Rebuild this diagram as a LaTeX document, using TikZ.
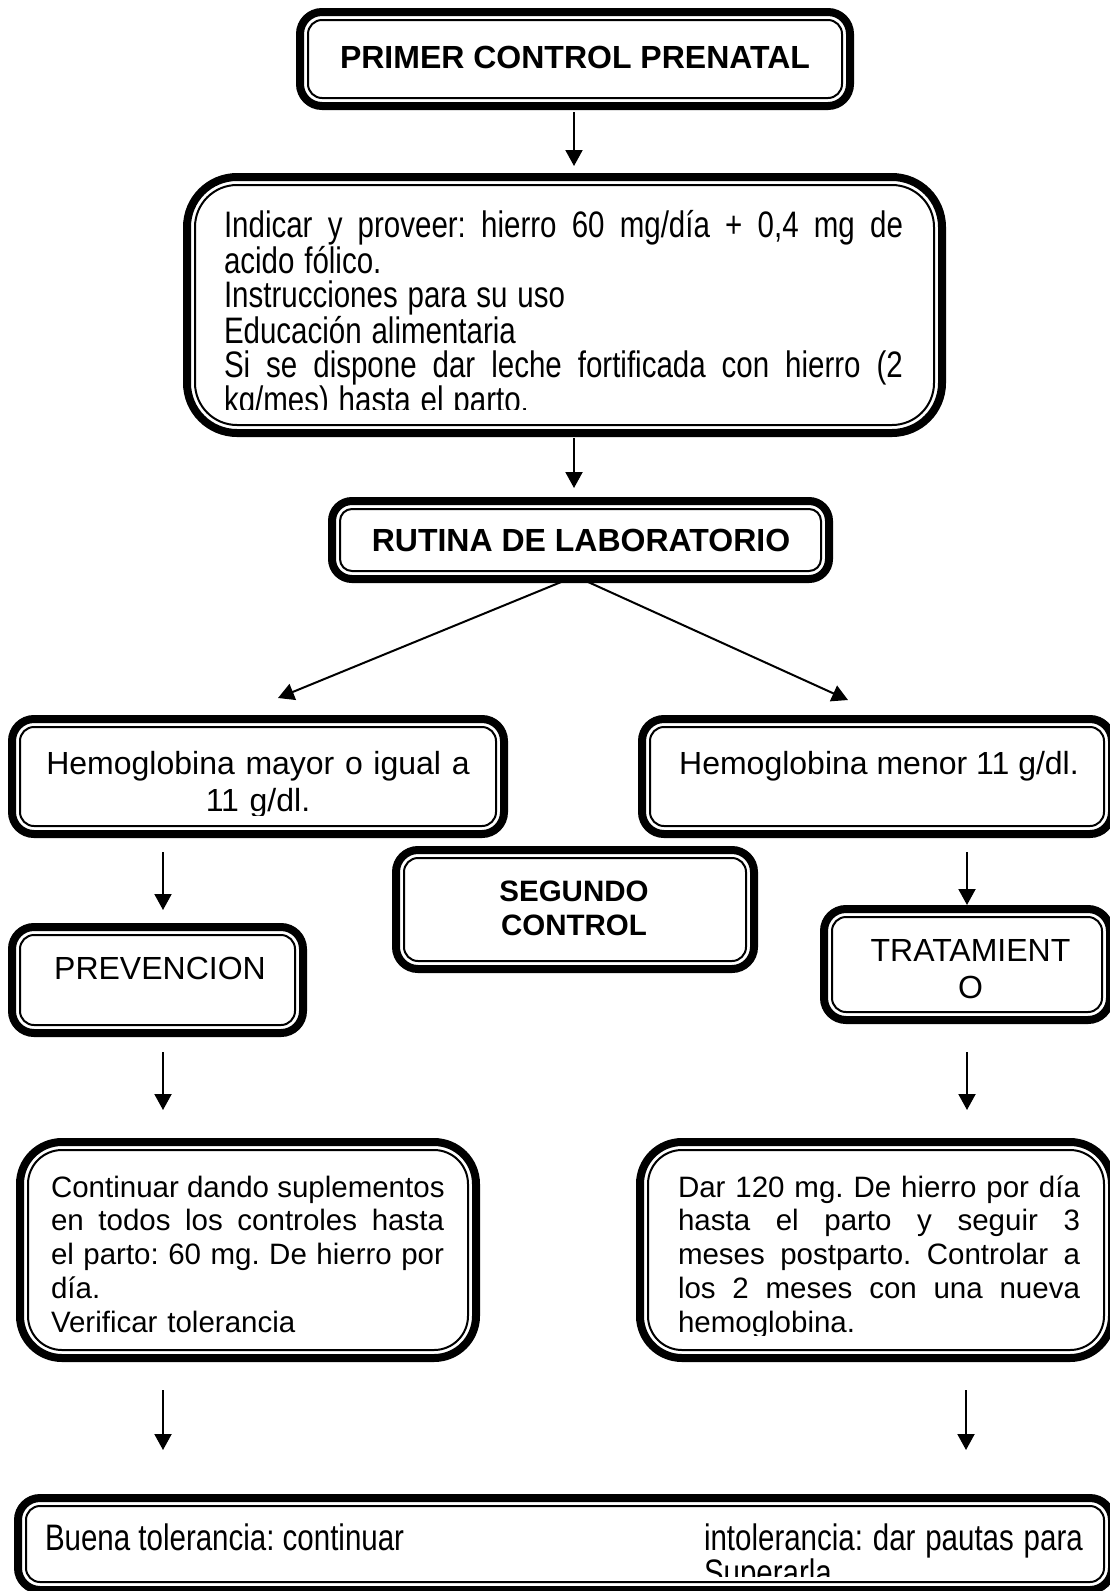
\documentclass[tikz,border=0pt]{standalone}
\usepackage{fontspec}
\setmainfont{Liberation Sans}
\usetikzlibrary{arrows.meta}
\frenchspacing
\newcommand\jline[2]{\leavevmode\hbox to #1{\spaceskip=\fontdimen2\font plus 1fill\relax #2}}
\tikzset{
  dbox/.style={draw, line width=8pt, rounded corners=#1, inner sep=0pt, outer sep=0pt},
  arr/.style={line width=2pt, -{Triangle[width=17pt,length=16pt]}},
  txt/.style={inner sep=0pt, outer sep=0pt},
  bigt/.style={txt, font=\frenchspacing\fontsize{32}{37}\selectfont},
  bigb/.style={txt, font=\frenchspacing\bfseries\fontsize{32}{37}\selectfont},
  medb/.style={txt, font=\frenchspacing\bfseries\fontsize{29.5}{34}\selectfont},
  smallt/.style={txt, font=\frenchspacing\fontsize{29.5}{33.9}\selectfont},
  tallt/.style={txt, yscale=1.25, font=\frenchspacing\fontsize{29.5}{27.2}\selectfont},
}
\newcommand\innerframe[2]{\draw[line width=2pt, rounded corners=#2] ([shift={(8,-8)}]#1.north west) rectangle ([shift={(-8,8)}]#1.south east);}
\begin{document}
\setlength{\lineskiplimit}{-100pt}%
\setlength{\lineskip}{0pt}%
\begin{tikzpicture}[x=1pt,y=1pt]
\useasboundingbox (0,0) rectangle (1110,-1591);
\fill[white] (0,0) rectangle (1110,-1591);
\clip (0,0) rectangle (1110,-1591);

% boxes
\node[dbox=22, minimum width=550, minimum height=94] (b1) at (575,-59) {};
\innerframe{b1}{14}
\node[dbox=50, minimum width=755, minimum height=256] (b2) at (564.5,-305) {};
\innerframe{b2}{42}
\node[dbox=20, minimum width=497, minimum height=78] (b3) at (580.5,-540) {};
\innerframe{b3}{12}
\node[dbox=22, minimum width=492, minimum height=115] (b4L) at (258,-776.5) {};
\innerframe{b4L}{14}
\node[dbox=22, minimum width=470, minimum height=115] (b4R) at (877,-776.5) {};
\innerframe{b4R}{14}
\node[dbox=22, minimum width=358, minimum height=119] (seg) at (575,-909.5) {};
\innerframe{seg}{14}
\node[dbox=22, minimum width=291, minimum height=106] (prev) at (157.5,-980) {};
\innerframe{prev}{14}
\node[dbox=22, minimum width=286, minimum height=111] (trat) at (967,-964.5) {};
\innerframe{trat}{14}
\node[dbox=42, minimum width=456, minimum height=216] (cont) at (248,-1250) {};
\innerframe{cont}{34}
\node[dbox=42, minimum width=472, minimum height=216] (dar) at (876,-1250) {};
\innerframe{dar}{34}
\node[dbox=22, minimum width=1094, minimum height=92] (bot) at (565,-1544) {};
\innerframe{bot}{14}

% texts
\node[bigb, anchor=base] (t1) at (575,-68) {PRIMER CONTROL PRENATAL};
\begin{scope}
\clip (183,-173) rectangle (946,-409);
\node[tallt, anchor=base west, text width=679, align=left] (t2) at (224,-237)
{\jline{679pt}{Indicar y proveer: hierro 60 mg/día + 0,4 mg de}\\
acido fólico.\\
Instrucciones para su uso\\
Educación alimentaria\\
\jline{679pt}{Si se dispone dar leche fortificada con hierro (2}\\
kg/mes) hasta el parto.};
\end{scope}
\node[bigb, anchor=base] (t3) at (581,-551.5) {RUTINA DE LABORATORIO};
\begin{scope}
\clip (8,-715) rectangle (508,-815);
\node[bigt, anchor=base, text width=470, align=center] (t4L) at (258,-774)
{Hemoglobina mayor o igual a\\11 g/dl.};
\end{scope}
\node[bigt, anchor=base] (t4R) at (879,-774) {Hemoglobina menor 11 g/dl.};
\node[medb, anchor=base, text width=300, align=center] (tseg) at (574,-901) {SEGUNDO\\CONTROL};
\node[bigt, anchor=base] (tprev) at (160,-979.5) {PREVENCION};
\node[bigt, anchor=base, text width=270, align=center] (ttrat) at (970.5,-961.5) {TRATAMIENT\\O};
\node[smallt, anchor=base west, text width=395, align=left] (tcont) at (51,-1197)
{\jline{393pt}{Continuar dando suplementos}\\
\jline{393pt}{en todos los controles hasta}\\
\jline{393pt}{el parto: 60 mg. De hierro por}\\
día.\\
Verificar tolerancia};
\begin{scope}
\clip (636,-1138) rectangle (1116,-1335);
\node[smallt, anchor=base west, text width=402, align=left] (tdar) at (678,-1197)
{\jline{402pt}{Dar 120 mg. De hierro por día}\\
\jline{402pt}{hasta el parto y seguir 3}\\
\jline{402pt}{meses postparto. Controlar a}\\
\jline{402pt}{los 2 meses con una nueva}\\
hemoglobina.};
\end{scope}
\node[tallt, anchor=base west] (tbotL) at (45,-1550) {Buena tolerancia: continuar};
\begin{scope}
\clip (14,-1494) rectangle (1116,-1576);
\node[tallt, anchor=base west, text width=400, align=left] (tbotR) at (704,-1550)
{intolerancia: dar pautas para\\Superarla};
\end{scope}

% connectors
\coordinate (cL) at (278,-698);
\coordinate (cR) at (848,-700);
\draw[arr, shorten <=6pt, shorten >=11pt] ([xshift=-1]b1.south) -- ([xshift=-1]b1.south |- b2.north);
\draw[arr, shorten <=5pt, shorten >=13pt] ([xshift=9.5]b2.south) -- ([xshift=9.5]b2.south |- b3.north);
\draw[arr, shorten <=4pt] ([xshift=-12]b3.south) -- (cL);
\draw[arr, shorten <=4pt] ([xshift=1]b3.south) -- (cR);
\draw[arr, shorten <=18pt, shorten >=17pt] ([xshift=5.5]prev.north |- b4L.south) -- ([xshift=5.5]prev.north);
\draw[arr, shorten <=18pt, shorten >=4pt] (trat.north |- b4R.south) -- (trat.north);
\draw[arr, shorten <=19pt, shorten >=32pt] ([xshift=5.5]prev.south) -- ([xshift=5.5]prev.south |- cont.north);
\draw[arr, shorten <=32pt, shorten >=32pt] (trat.south) -- (trat.south |- dar.north);
\draw[arr, shorten <=32pt, shorten >=48pt] ([xshift=-85]cont.south) -- ([xshift=-85]cont.south |- bot.north);
\draw[arr, shorten <=32pt, shorten >=48pt] ([xshift=90]dar.south) -- ([xshift=90]dar.south |- bot.north);
\end{tikzpicture}
\end{document}
